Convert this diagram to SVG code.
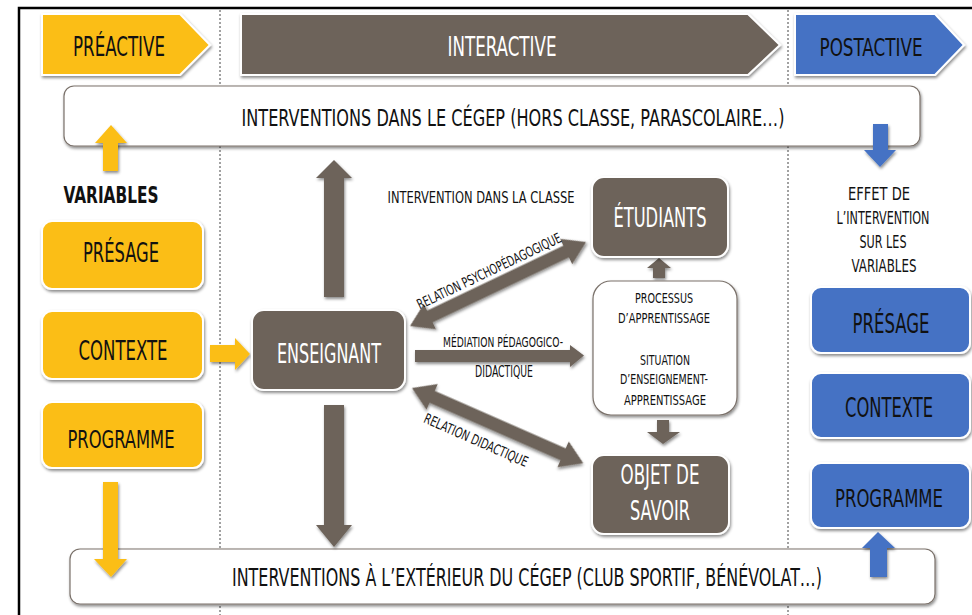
<svg xmlns="http://www.w3.org/2000/svg" width="972" height="615" viewBox="0 0 972 615">
<defs>
<filter id="sh" x="-10%" y="-10%" width="120%" height="130%">
<feDropShadow dx="1" dy="2" stdDeviation="1.5" flood-color="#000" flood-opacity="0.45"/>
</filter>
<style>
text{font-family:"Liberation Sans Narrow","DejaVu Sans Condensed","Liberation Sans",sans-serif;text-anchor:middle}
.y{fill:#FBBE18;stroke:#fff;stroke-width:2;filter:url(#sh)}
.b{fill:#4472C4;stroke:#fff;stroke-width:2;filter:url(#sh)}
.g{fill:#6D635A;stroke:#fff;stroke-width:2;filter:url(#sh)}
.w{fill:#fff;stroke:#7a716a;stroke-width:1.2;filter:url(#sh)}
.ga{fill:#6D635A;filter:url(#sh)}
.ya{fill:#FBBE18;filter:url(#sh)}
.ba{fill:#4472C4;filter:url(#sh)}
.dk{fill:#111}
.wt{fill:#fff}
.dash{stroke:#444;stroke-width:1;stroke-dasharray:2,2;fill:none}
</style>
</defs>
<rect x="0" y="0" width="972" height="615" fill="#fff"/>
<path d="M19,630 L19,8 L975,8" fill="none" stroke="#000" stroke-width="2.5"/>
<line class="dash" x1="220" y1="10" x2="220" y2="615"/>
<line class="dash" x1="788" y1="10" x2="788" y2="615"/>

<g id="preactive">
<path class="y" d="M42,14 L180,14 L210,45 L180,75 L42,75 Z"/>
<text class="dk" x="119" y="56" font-size="26" textLength="92" lengthAdjust="spacingAndGlyphs">PRÉACTIVE</text>
</g>
<g id="interactive">
<path class="g" d="M241,14 L748,14 L780,45 L748,75 L241,75 Z"/>
<text class="wt" x="502" y="56" font-size="26" textLength="109" lengthAdjust="spacingAndGlyphs">INTERACTIVE</text>
</g>
<g id="postactive">
<path class="b" d="M795,14 L935,14 L964,45 L935,75 L795,75 Z"/>
<text class="dk" x="871" y="56" font-size="25" textLength="103" lengthAdjust="spacingAndGlyphs">POSTACTIVE</text>
</g>

<g id="cegep">
<rect class="w" x="64" y="86" width="856" height="60" rx="10"/>
<text class="dk" x="513" y="126" font-size="23" textLength="543" lengthAdjust="spacingAndGlyphs">INTERVENTIONS DANS LE CÉGEP (HORS CLASSE, PARASCOLAIRE…)</text>
</g>
<g id="exterieur">
<rect class="w" x="70" y="549" width="865" height="55" rx="10"/>
<text class="dk" x="527" y="586" font-size="25" textLength="590" lengthAdjust="spacingAndGlyphs">INTERVENTIONS À L’EXTÉRIEUR DU CÉGEP (CLUB SPORTIF, BÉNÉVOLAT…)</text>
</g>

<g id="connectors">
<path class="ya" d="M103,171 L103,143 L95,143 L111,125 L127,143 L118,143 L118,171 Z"/>
<path class="ya" d="M210,345 L235,345 L235,338 L250,354 L235,370 L235,362 L210,362 Z"/>
<path class="ya" d="M103,482 L118,482 L118,559 L127,559 L111,577 L94,559 L103,559 Z"/>
<path class="ga" d="M324,297 L324,178 L316,178 L334,160 L352,178 L344,178 L344,297 Z"/>
<path class="ga" d="M324,405 L344,405 L344,525 L352,525 L334,547 L316,525 L324,525 Z"/>
<path class="ga" d="M653,278 L653,268 L647,268 L659,258 L671,268 L665,268 L665,278 Z"/>
<path class="ga" d="M657,420 L669,420 L669,432 L680,432 L663,444 L647,432 L657,432 Z"/>
<path class="ga" d="M415,350 L570,350 L570,345 L584,355.5 L570,367 L570,362 L415,362 Z"/>
<path class="ga" transform="translate(410,326) rotate(-25.5)" d="M0,0 L22,-14 L22,-6.5 L173,-6.5 L173,-14 L195,0 L173,14 L173,6.5 L22,6.5 L22,14 Z"/>
<path class="ga" transform="translate(412,388) rotate(23.7)" d="M0,0 L22,-14 L22,-6.5 L165,-6.5 L165,-14 L187,0 L165,14 L165,6.5 L22,6.5 L22,14 Z"/>
<path class="ba" d="M873,124 L888,124 L888,150 L896,150 L880,167 L864,150 L873,150 Z"/>
<path class="ba" d="M870,577 L870,548 L862,548 L878,532 L895,548 L887,548 L887,577 Z"/>
</g>

<g id="labels">
<text class="dk" x="481" y="203" font-size="16" textLength="187" lengthAdjust="spacingAndGlyphs">INTERVENTION DANS LA CLASSE</text>
<text class="dk" x="503" y="347" font-size="14" textLength="120" lengthAdjust="spacingAndGlyphs">MÉDIATION PÉDAGOGICO-</text>
<text class="dk" x="504" y="377" font-size="15" textLength="58" lengthAdjust="spacingAndGlyphs">DIDACTIQUE</text>
<text class="dk" transform="translate(489,271) rotate(-25.5)" x="0" y="5" font-size="14" textLength="158" lengthAdjust="spacingAndGlyphs">RELATION PSYCHOPÉDAGOGIQUE</text>
<text class="dk" transform="translate(476,440) rotate(23.7)" x="0" y="5" font-size="14" textLength="112" lengthAdjust="spacingAndGlyphs">RELATION DIDACTIQUE</text>
<text class="dk" x="111" y="203" font-size="23" font-weight="bold" textLength="95" lengthAdjust="spacingAndGlyphs">VARIABLES</text>
<text class="dk" x="879" y="200" font-size="17" textLength="62" lengthAdjust="spacingAndGlyphs">EFFET DE</text>
<text class="dk" x="883" y="224" font-size="17" textLength="93" lengthAdjust="spacingAndGlyphs">L’INTERVENTION</text>
<text class="dk" x="883" y="248" font-size="17" textLength="47" lengthAdjust="spacingAndGlyphs">SUR LES</text>
<text class="dk" x="884" y="272" font-size="17" textLength="65" lengthAdjust="spacingAndGlyphs">VARIABLES</text>
</g>

<g id="presage-pre">
<rect class="y" x="42" y="221" width="161" height="68" rx="10"/>
<text class="dk" x="121" y="262" font-size="26" textLength="76" lengthAdjust="spacingAndGlyphs">PRÉSAGE</text>
</g>
<g id="contexte-pre">
<rect class="y" x="42" y="311" width="161" height="68" rx="10"/>
<text class="dk" x="123" y="360" font-size="26" textLength="89" lengthAdjust="spacingAndGlyphs">CONTEXTE</text>
</g>
<g id="programme-pre">
<rect class="y" x="42" y="402" width="161" height="66" rx="10"/>
<text class="dk" x="121" y="448" font-size="25" textLength="107" lengthAdjust="spacingAndGlyphs">PROGRAMME</text>
</g>

<g id="enseignant">
<rect class="g" x="252" y="310" width="153" height="80" rx="12"/>
<text class="wt" x="329" y="363" font-size="26" textLength="104" lengthAdjust="spacingAndGlyphs">ENSEIGNANT</text>
</g>
<g id="etudiants">
<rect class="g" x="592" y="177" width="136" height="80" rx="12"/>
<text class="wt" x="660" y="227" font-size="26" textLength="93" lengthAdjust="spacingAndGlyphs">ÉTUDIANTS</text>
</g>
<g id="processus">
<rect class="w" x="593" y="281" width="144" height="134" rx="18"/>
<text class="dk" x="664" y="303" font-size="14" textLength="58" lengthAdjust="spacingAndGlyphs">PROCESSUS</text>
<text class="dk" x="664" y="323" font-size="14" textLength="92" lengthAdjust="spacingAndGlyphs">D’APPRENTISSAGE</text>
<text class="dk" x="665" y="365" font-size="14" textLength="50" lengthAdjust="spacingAndGlyphs">SITUATION</text>
<text class="dk" x="664" y="384" font-size="14" textLength="88" lengthAdjust="spacingAndGlyphs">D’ENSEIGNEMENT-</text>
<text class="dk" x="665" y="405" font-size="14" textLength="82" lengthAdjust="spacingAndGlyphs">APPRENTISSAGE</text>
</g>
<g id="objet">
<rect class="g" x="592" y="455" width="137" height="79" rx="12"/>
<text class="wt" x="660" y="484" font-size="26" textLength="79" lengthAdjust="spacingAndGlyphs">OBJET DE</text>
<text class="wt" x="660" y="520" font-size="26" textLength="60" lengthAdjust="spacingAndGlyphs">SAVOIR</text>
</g>

<g id="presage-post">
<rect class="b" x="811" y="287" width="159" height="66" rx="10"/>
<text class="dk" x="891" y="333" font-size="26" textLength="77" lengthAdjust="spacingAndGlyphs">PRÉSAGE</text>
</g>
<g id="contexte-post">
<rect class="b" x="811" y="373" width="159" height="65" rx="10"/>
<text class="dk" x="889" y="417" font-size="26" textLength="88" lengthAdjust="spacingAndGlyphs">CONTEXTE</text>
</g>
<g id="programme-post">
<rect class="b" x="811" y="463" width="159" height="65" rx="10"/>
<text class="dk" x="889" y="507" font-size="24" textLength="108" lengthAdjust="spacingAndGlyphs">PROGRAMME</text>
</g>
</svg>
